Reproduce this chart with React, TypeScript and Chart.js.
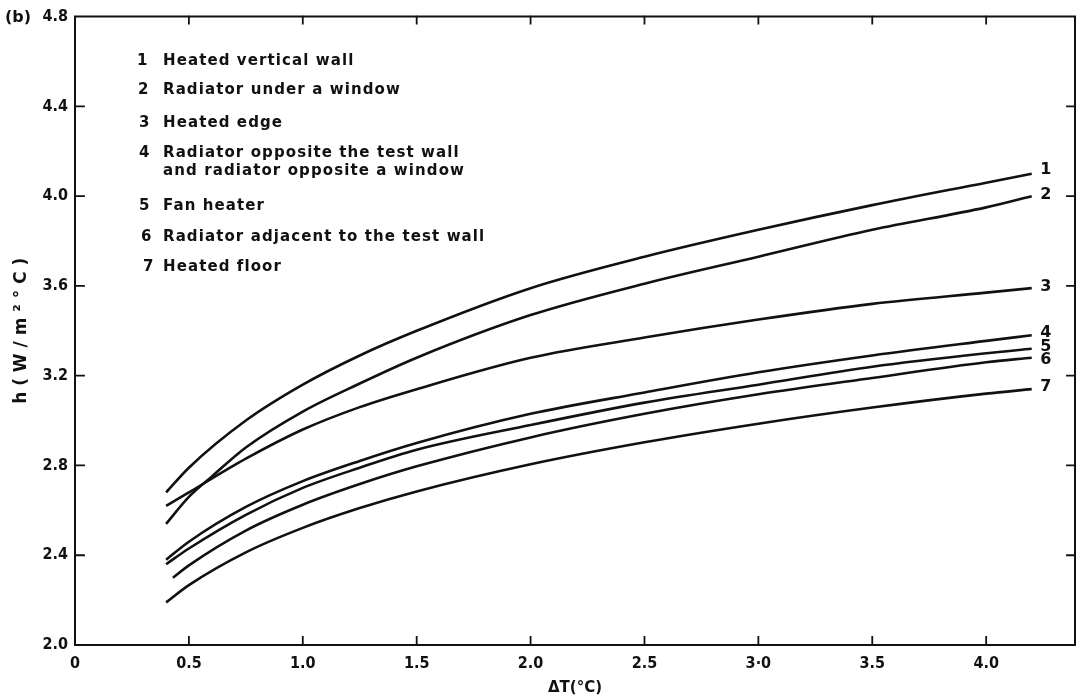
import { useEffect, useRef } from 'react';
import { Chart, registerables } from 'chart.js';

Chart.register(...registerables);

// ---- data ----
const xCommon = [0.4, 0.5, 0.75, 1.0, 1.25, 1.5, 2.0, 2.5, 3.0, 3.5, 4.0, 4.2];
const curve2X = [0.4, 0.5, 0.6, 0.75, 1.0, 1.25, 1.5, 2.0, 2.5, 3.0, 3.5, 4.0, 4.2];
const curve6X = [0.43, 0.5, 0.75, 1.0, 1.25, 1.5, 2.0, 2.5, 3.0, 3.5, 4.0, 4.2];

const heatedVerticalWall = [2.68, 2.79, 3.0, 3.16, 3.29, 3.4, 3.59, 3.73, 3.85, 3.96, 4.06, 4.1];
const radiatorUnderWindow = [2.54, 2.66, 2.75, 2.88, 3.04, 3.165, 3.28, 3.47, 3.61, 3.73, 3.85, 3.95, 4.0];
const heatedEdge = [2.62, 2.68, 2.83, 2.96, 3.06, 3.14, 3.28, 3.37, 3.45, 3.52, 3.57, 3.59];
const radiatorOpposite = [2.38, 2.46, 2.615, 2.73, 2.82, 2.9, 3.03, 3.125, 3.215, 3.29, 3.355, 3.38];
const fanHeater = [2.36, 2.43, 2.58, 2.7, 2.79, 2.87, 2.98, 3.08, 3.16, 3.24, 3.3, 3.32];
const radiatorAdjacent = [2.3, 2.355, 2.51, 2.625, 2.717, 2.796, 2.925, 3.03, 3.117, 3.19, 3.26, 3.28];
const heatedFloor = [2.19, 2.267, 2.413, 2.522, 2.61, 2.684, 2.805, 2.903, 2.986, 3.058, 3.12, 3.14];

const seriesNames = [
  'Heated vertical wall',
  'Radiator under a window',
  'Heated edge',
  'Radiator opposite the test wall\nand radiator opposite a window',
  'Fan heater',
  'Radiator adjacent to the test wall',
  'Heated floor',
];
const curveLabels = ['1', '2', '3', '4', '5', '6', '7'];
const xTickLabels = ['0', '0.5', '1.0', '1.5', '2.0', '2.5', '3·0', '3.5', '4.0'];
const yTickLabels = ['2.0', '2.4', '2.8', '3.2', '3.6', '4.0', '4.4', '4.8'];

const seriesValues = [
  heatedVerticalWall,
  radiatorUnderWindow,
  heatedEdge,
  radiatorOpposite,
  fanHeater,
  radiatorAdjacent,
  heatedFloor,
];
const seriesX = [xCommon, curve2X, xCommon, xCommon, xCommon, curve6X, xCommon];

// ---- style ----
const INK = '#111';
const TICK_FAMILY = "'DejaVu Sans Condensed', 'DejaVu Sans', sans-serif";
const labelDy = [-4, -1, -1, -2, -2, 2, -2];
const legendRowsTop = [51, 80, 113, 143, 196, 227, 257];
const legendNumLeft = [137, 138, 139, 139, 139, 141, 143];

const framePlugin = {
  id: 'frame',
  afterDraw(chart: any) {
    const { ctx, chartArea } = chart;
    const { left, right, top, bottom } = chartArea;
    const xs = chart.scales.x;
    const ys = chart.scales.y;
    ctx.save();
    ctx.strokeStyle = INK;
    ctx.lineCap = 'square';
    ctx.lineWidth = 2;
    ctx.beginPath();
    ctx.moveTo(left, top);
    ctx.lineTo(left, bottom);
    ctx.lineTo(right, bottom);
    ctx.lineTo(right, top);
    ctx.closePath();
    ctx.stroke();
    ctx.lineWidth = 1.8;
    ctx.beginPath();
    xs.ticks.forEach((t: any) => {
      const px = xs.getPixelForValue(t.value);
      if (px <= left + 1 || px >= right - 1) return;
      ctx.moveTo(px, bottom);
      ctx.lineTo(px, bottom - 8);
      ctx.moveTo(px, top);
      ctx.lineTo(px, top + 7);
    });
    ys.ticks.forEach((t: any) => {
      const py = ys.getPixelForValue(t.value);
      if (py <= top + 1 || py >= bottom - 1) return;
      ctx.moveTo(left, py);
      ctx.lineTo(left + 9, py);
      ctx.moveTo(right, py);
      ctx.lineTo(right - 8, py);
    });
    ctx.stroke();
    ctx.fillStyle = INK;
    ctx.font = "bold 16px 'DejaVu Sans', sans-serif";
    ctx.textAlign = 'center';
    ctx.textBaseline = 'middle';
    chart.data.datasets.forEach((_ds: any, i: number) => {
      const meta = chart.getDatasetMeta(i);
      const last = meta.data[meta.data.length - 1];
      if (!last) return;
      ctx.fillText(curveLabels[i], last.x + 14, last.y + labelDy[i]);
    });
    ctx.restore();
  },
};

export default function App() {
  const canvasRef = useRef<HTMLCanvasElement | null>(null);

  useEffect(() => {
    const canvas = canvasRef.current;
    if (!canvas) return;
    const datasets = seriesValues.map((vals, i) => ({
      label: seriesNames[i],
      data: vals.map((v, j) => ({ x: seriesX[i][j], y: v })),
      borderColor: INK,
      borderWidth: 2.6,
      pointRadius: 0,
      fill: false,
      cubicInterpolationMode: 'monotone' as const,
    }));
    const chart = new Chart(canvas, {
      type: 'line',
      data: { datasets },
      options: {
        animation: false,
        responsive: false,
        maintainAspectRatio: false,
        layout: { padding: { left: 0, right: 4, top: 15, bottom: 0 } },
        plugins: {
          legend: { display: false },
          tooltip: { enabled: false },
        },
        scales: {
          x: {
            type: 'linear',
            min: 0,
            max: 4.39,
            afterFit: (s: any) => {
              s.height = 53;
            },
            grid: { display: false, drawTicks: false },
            border: { display: false },
            ticks: {
              stepSize: 0.5,
              includeBounds: false,
              padding: 9,
              color: INK,
              font: { family: TICK_FAMILY, size: 16, weight: 'bold' },
              callback: (_v: any, idx: number) => xTickLabels[idx] ?? '',
            },
            title: {
              display: true,
              text: 'ΔT(°C)',
              color: INK,
              font: { family: "'DejaVu Sans', sans-serif", size: 15, weight: 'bold' },
              padding: { top: 0, bottom: 1 },
            },
          },
          y: {
            type: 'linear',
            min: 2.0,
            max: 4.8,
            afterFit: (s: any) => {
              s.width = 75;
            },
            grid: { display: false, drawTicks: false },
            border: { display: false },
            ticks: {
              stepSize: 0.4,
              padding: 7,
              color: INK,
              font: { family: TICK_FAMILY, size: 16, weight: 'bold' },
              callback: (_v: any, idx: number) => yTickLabels[idx] ?? '',
            },
            title: {
              display: true,
              text: 'h ( W / m ² ° C )',
              color: INK,
              font: { family: "'DejaVu Sans', sans-serif", size: 17, weight: 'bold' },
              padding: { top: 11, bottom: 0 },
            },
          },
        },
      },
      plugins: [framePlugin],
    });
    return () => chart.destroy();
  }, []);

  const textStyle: any = {
    position: 'absolute',
    fontFamily: "'DejaVu Sans', sans-serif",
    fontWeight: 'bold',
    fontSize: '15px',
    lineHeight: '18px',
    letterSpacing: '1.1px',
    color: INK,
    whiteSpace: 'pre-line',
    margin: 0,
  };

  return (
    <div style={{ position: 'absolute', left: 0, top: 0, width: 1079, height: 698, background: '#fff' }}>
      <canvas ref={canvasRef} width={1079} height={698} style={{ display: 'block' }} />
      <div style={{ ...textStyle, left: 5, top: 8, fontSize: '16px', letterSpacing: '0px' }}>(b)</div>
      {seriesNames.map((name, i) => (
        <div key={i}>
          <div style={{ ...textStyle, left: legendNumLeft[i], top: legendRowsTop[i] }}>{curveLabels[i]}</div>
          <div style={{ ...textStyle, left: 163, top: legendRowsTop[i] }}>{name}</div>
        </div>
      ))}
    </div>
  );
}
